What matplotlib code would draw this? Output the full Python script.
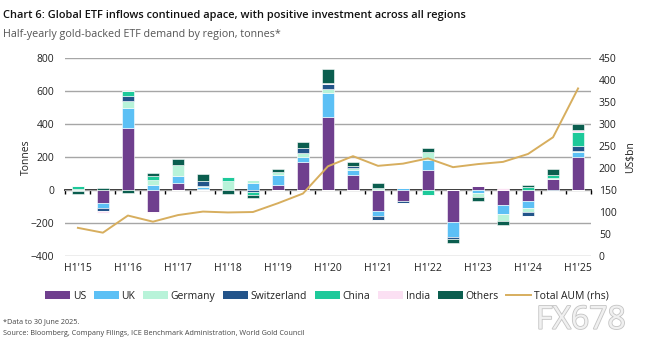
import matplotlib
matplotlib.use("Agg")
import matplotlib.pyplot as plt
import matplotlib.patheffects as pe
import numpy as np
from matplotlib.patches import Patch
from matplotlib.lines import Line2D

plt.rcParams['font.family'] = ['Open Sans', 'DejaVu Sans']

periods = ["H1'15", "H2'15", "H1'16", "H2'16", "H1'17", "H2'17", "H1'18", "H2'18",
           "H1'19", "H2'19", "H1'20", "H2'20", "H1'21", "H2'21", "H1'22", "H2'22",
           "H1'23", "H2'23", "H1'24", "H2'24", "H1'25"]

us          = [-5, -80, 378, -135, 40, 6, 0, 0, 28, 170, 444, 94, -126, -66, 124, -192, 24, -92, -68, 68, 198]
uk          = [0, -30, 122, 28, 48, 10, 0, 40, 66, 30, 145, 26, -34, 10, 60, -94, -20, -54, -42, 0, 34]
germany     = [8, 0, 38, 32, 66, 8, 54, 18, 14, 26, 24, 14, 5, 0, 44, 0, -22, -40, -24, 6, 4]
switzerland = [-3, -15, 32, 0, 0, 30, 0, -10, 0, 30, 32, 14, -20, -10, 0, -10, 0, 0, -24, -8, 30]
china       = [18, 0, 30, 28, 0, 0, 26, -20, 0, 0, 0, 0, 10, 0, -30, 0, 0, 0, 20, 20, 85]
india       = [0, -12, 0, -5, 0, 0, 0, 0, 0, 0, 6, 0, 0, 0, 0, 0, 0, 12, 0, 0, 10]
others      = [-15, 15, -20, 16, 34, 46, -22, -16, 22, 36, 83, 20, 30, 0, 26, -26, -26, -26, 10, 32, 42]
aum         = [64, 53, 92, 78, 93, 101, 99, 100, 120, 142, 204, 227, 205, 210, 222, 202, 209, 214, 232, 270, 381]

series = [("US", us, "#6f3f8e"), ("UK", uk, "#5cc0f5"), ("Germany", germany, "#b8f3d9"),
          ("Switzerland", switzerland, "#23548a"), ("China", china, "#1ec99a"),
          ("India", india, "#fbe0f3"), ("Others", others, "#0b5e4f")]

fig = plt.figure(figsize=(6.54, 3.5), dpi=100)
ax = fig.add_axes([0.100, 0.2686, 0.803, 0.5654])
x = np.arange(len(periods))

pos_base = np.zeros(len(x))
neg_base = np.zeros(len(x))
for name, vals, col in series:
    v = np.array(vals, dtype=float)
    p = np.where(v > 0, v, 0)
    n = np.where(v < 0, v, 0)
    ax.bar(x, p, bottom=pos_base, width=0.45, color=col, edgecolor='white', linewidth=0.4, zorder=3)
    ax.bar(x, n, bottom=neg_base, width=0.45, color=col, edgecolor='white', linewidth=0.4, zorder=3)
    pos_base += p
    neg_base += n

ax.set_xlim(-0.5, len(x) - 0.5)
ax.set_ylim(-400, 800)
ax.set_yticks(np.arange(-400, 801, 200))
ax.grid(axis='y', color='#a6a6a6', linewidth=1.0, zorder=0)
ax.set_axisbelow(True)
for s in ax.spines.values():
    s.set_visible(False)
ax.tick_params(axis='y', length=0, labelsize=7.5, colors='#222222', pad=8)
ax.set_xticks(x[::2])
ax.set_xticklabels(periods[::2])
ax.tick_params(axis='x', length=0, labelsize=7.5, colors='#222222', pad=5)
ax.set_ylabel("Tonnes", fontsize=7.5, color='#222222', labelpad=-1)

# zero axis with tick marks between periods
sec = ax.secondary_xaxis(1/3)
sec.set_xticks(np.arange(-0.5, len(x), 1.0))
sec.set_xticklabels([])
sec.tick_params(axis='x', direction='out', length=3, width=1, colors='black')
sec.spines['bottom'].set_color('black')
sec.spines['bottom'].set_linewidth(1.2)
sec.spines['top'].set_visible(False)

ax2 = ax.twinx()
ax2.plot(x, aum, color='#d7ae5e', linewidth=1.4, zorder=5)
ax2.set_ylim(0, 450)
ax2.set_yticks(np.arange(0, 451, 50))
for s in ax2.spines.values():
    s.set_visible(False)
ax2.tick_params(axis='y', length=0, labelsize=7.5, colors='#222222', pad=6)
ax2.set_ylabel("US$bn", fontsize=7.5, color='#222222', labelpad=6)

handles = [Patch(facecolor=c, label=n) for n, _, c in series]
handles.append(Line2D([0], [0], color='#d7ae5e', linewidth=1.4, label='Total AUM (rhs)'))
fig.legend(handles=handles, loc='center', bbox_to_anchor=(0.5, 0.154), ncol=8, frameon=False,
           fontsize=7.5, handlelength=2.4, handleheight=0.7, handletextpad=0.25,
           columnspacing=0.75, labelcolor='#222222')

fig.text(0.005, 0.957, "Chart 6: Global ETF inflows continued apace, with positive investment across all regions",
         fontsize=7.95, fontweight='semibold', color='#111111', va='center')
fig.text(0.005, 0.9, "Half-yearly gold-backed ETF demand by region, tonnes*",
         fontsize=7.75, color='#555555', va='center')
fig.text(0.005, 0.08, "*Data to 30 June 2025.", fontsize=5.2, color='#444444', va='center')
fig.text(0.005, 0.048, "Source: Bloomberg, Company Filings, ICE Benchmark Administration, World Gold Council",
         fontsize=5.2, color='#444444', va='center')
fig.text(0.957, 0.085, "FX678", fontsize=23, color='#f0f0f0', ha='right', va='center',
         path_effects=[pe.withStroke(linewidth=1.2, foreground='#c4c4c4')])

fig.savefig("out.png", dpi=100)
